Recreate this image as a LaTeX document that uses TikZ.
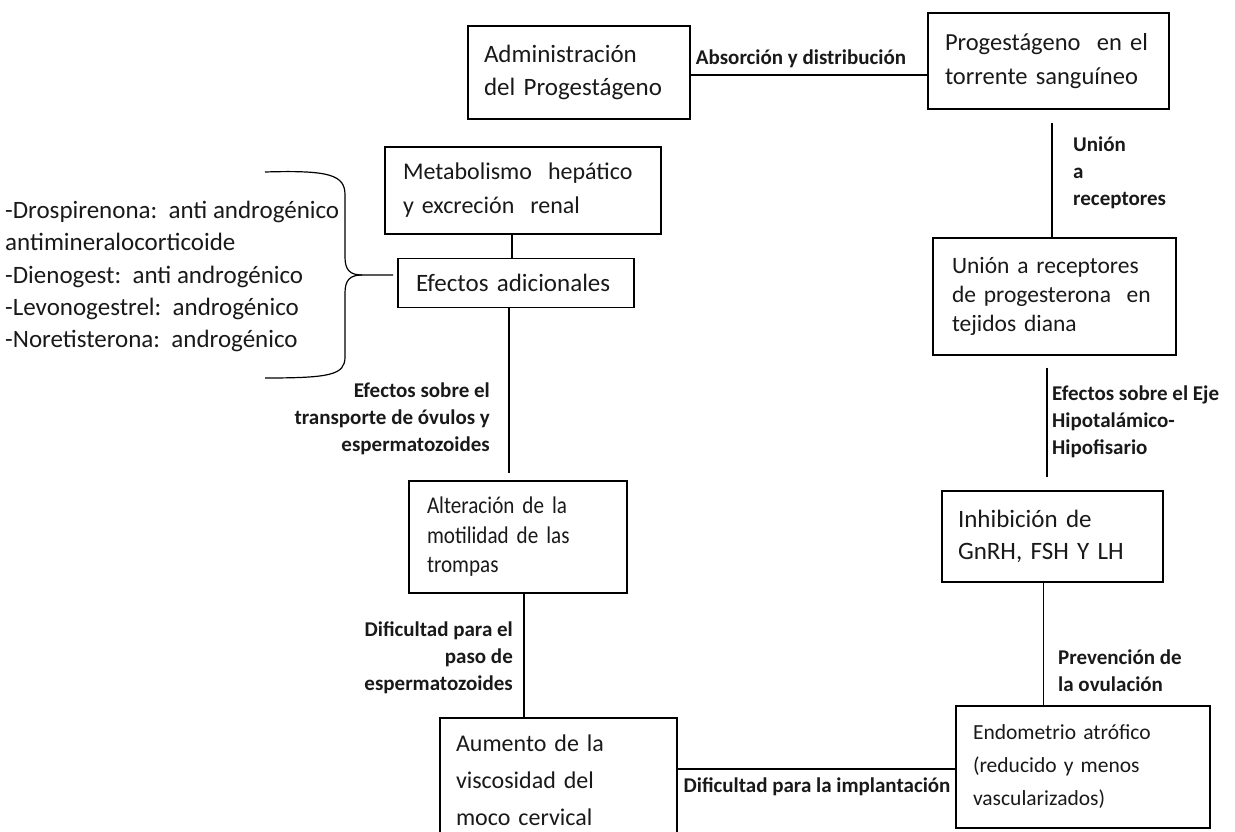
\documentclass[tikz,border=0pt]{standalone}
\usepackage{fontspec}
\setmainfont{Carlito}
\newfontfamily\condfont{Carlito}[FakeStretch=0.88]
\begin{document}
\begin{tikzpicture}[x=1pt,y=-1pt,
  box/.style={draw, line width=1.2pt, align=left, inner sep=0pt, text=black!90,
    font=\fontsize{25}{33}\selectfont},
  lab/.style={font=\bfseries\fontsize{21}{27}\selectfont, inner sep=0pt, text=black!90},
  conn/.style={line width=1.2pt},
  brace/.style={line width=1.2pt, line join=round}]
\useasboundingbox (0,0) rectangle (1235,832);
% boxes
\node[box, minimum width=222pt, minimum height=93pt, text width=190pt] (adm) at (579,72.5)
  {\mbox{Administración}\\\mbox{del Progestágeno}};
\node[box, minimum width=241pt, minimum height=96pt, text width=207pt, font=\fontsize{24.5}{34}\selectfont] (prog) at (1048.5,61)
  {\mbox{Progestágeno\ \ en el}\\\mbox{torrente sanguíneo}};
\node[box, minimum width=243pt, minimum height=117pt, text width=205pt, font=\fontsize{23.5}{29}\selectfont] (uni) at (1054.5,296.5)
  {\mbox{Unión a receptores}\\\mbox{de progesterona\ \ en}\\\mbox{tejidos diana}};
\node[box, minimum width=221pt, minimum height=91pt, text width=189pt, font=\fontsize{25}{32}\selectfont] (inh) at (1052.5,536.5)
  {\mbox{Inhibición de}\\\mbox{GnRH,\ FSH Y LH}};
\node[box, minimum width=254pt, minimum height=122pt, text width=220pt, font=\fontsize{21.5}{33}\selectfont] (endo) at (1083,767)
  {\mbox{Endometrio atrófico}\\\mbox{(reducido y menos}\\\mbox{vascularizados)}};
\node[box, minimum width=237pt, minimum height=124pt, text width=205pt, font=\fontsize{24}{37}\selectfont] (aum) at (558.5,780)
  {\mbox{Aumento de la}\\\mbox{viscosidad del}\\\mbox{moco cervical}};
\node[box, minimum width=218pt, minimum height=112pt, text width=182pt, font=\condfont\fontsize{24}{29.5}\selectfont] (alt) at (518,537)
  {\mbox{Alteración de la}\\\mbox{motilidad de las}\\\mbox{trompas}};
\node[box, minimum width=236pt, minimum height=49pt, text width=200pt] (efe) at (516,283)
  {\mbox{Efectos adicionales}};
\node[box, minimum width=276pt, minimum height=87pt, text width=240pt, font=\fontsize{24}{34}\selectfont] (met) at (523,190.5)
  {\mbox{Metabolismo\ \ hepático}\\\mbox{y excreción\ \ renal}};
% connectors
\draw[conn] (adm.east) ++(0,-2.5pt) coordinate (a1) -- (a1 -| prog.west);
\draw[conn] ([xshift=3.5pt,yshift=-13pt]prog.south) -- ([xshift=3.5pt]prog.south |- uni.north);
\draw[conn] ([xshift=-7.5pt,yshift=-12pt]uni.south) -- ([xshift=-7.5pt,yshift=13pt]uni.south |- inh.north);
\draw[conn] ([xshift=-9pt]inh.south) -- ([xshift=-9pt]inh.south |- endo.north);
\draw[conn] ([xshift=-11pt]met.south) -- ([xshift=-11pt]met.south |- efe.north);
\draw[conn] ([xshift=-7pt]efe.south) -- ([xshift=-7pt,yshift=7pt]efe.south |- alt.north);
\draw[conn] ([xshift=6pt]alt.south) -- ([xshift=6pt]alt.south |- aum.north);
\draw[conn] ([yshift=11pt]aum.east) -- ([yshift=11pt]aum.east -| endo.west);
% labels
\node[lab] (l1) at (801,59) {Absorción y distribución};
\node[lab, align=left, anchor=north west] (l2) at (1073,137) {Unión\\a\\receptores};
\node[lab, align=left, anchor=north west] (l3) at (1052,386) {Efectos sobre el Eje\\Hipotalámico-\\Hipofisario};
\node[lab, align=left, anchor=north west] (l4) at (1058,650) {Prevención de\\la ovulación};
\node[lab, align=right, anchor=north east] (l5) at (490,383) {Efectos sobre el\\transporte de óvulos y\\espermatozoides};
\node[lab, align=right, anchor=north east] (l6) at (513,622) {Dificultad para el\\paso de\\espermatozoides};
\node[lab] (l7) at (817,787) {Dificultad para la implantación};
% side list
\node[align=left, anchor=north west, inner sep=0pt, text=black!90, font=\fontsize{25}{32.3}\selectfont] (list) at (5,201)
  {-Drospirenona:\ \ anti androgénico\\antimineralocorticoide\\-Dienogest:\ \ anti androgénico\\-Levonogestrel:\ \ androgénico\\-Noretisterona:\ \ androgénico};
% brace
\draw[brace] (265,172) .. controls (330,170) and (345,175) .. (345,195) -- (345,257)
  .. controls (345,270) and (350,275) .. (362,275) -- (393,275);
\draw[brace] (362,275) .. controls (350,275) and (345,280) .. (345,293) -- (345,357)
  .. controls (345,375) and (330,378) .. (265,378);
\end{tikzpicture}
\end{document}
